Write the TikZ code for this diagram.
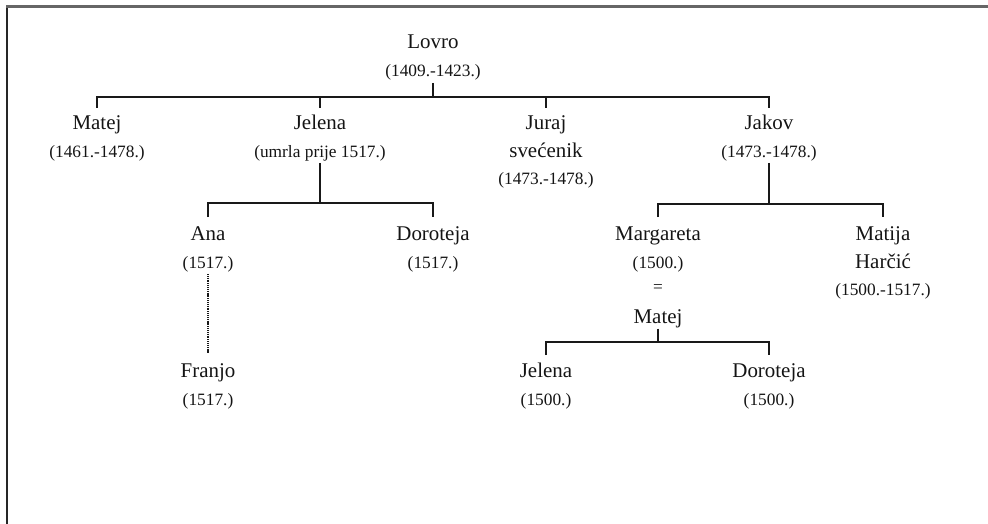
\documentclass[tikz,border=0pt]{standalone}
\usepackage{fontspec}
\setmainfont{Liberation Serif}
\begin{document}
\begin{tikzpicture}[x=0.75pt,y=-0.75pt,
  nm/.style={anchor=base,inner sep=0pt,font=\fontsize{15.7}{18}\selectfont,text=black!92},
  dt/.style={anchor=base,inner sep=0pt,font=\fontsize{13}{15}\selectfont,text=black!92},
  tl/.style={line width=2pt,draw=black!90},
  dl/.style={line width=1.2pt,draw=black!90,dash pattern=on 0.8pt off 0.6pt}]
\useasboundingbox (0,0) rectangle (988,524);
% frame
\draw[line width=1.4pt,black!85] (7,524) -- (7,6.5);
\draw[line width=1.6pt,black!60] (6.3,6.5) -- (988,6.5);
% generation 0
\node[nm] (lovroN) at (433,49) {Lovro};
\node[dt] (lovroD) at (433,77) {(1409.-1423.)};
% generation 1
\node[nm] (matejN) at (97,130) {Matej};
\node[dt] (matejD) at (97,158) {(1461.-1478.)};
\node[nm] (jelenaN) at (320,130) {Jelena};
\node[dt] (jelenaD) at (320,158) {(umrla prije 1517.)};
\node[nm] (jurajN) at (546,130) {Juraj};
\node[nm] (jurajS) at (546,157) {svećenik};
\node[dt] (jurajD) at (546,185) {(1473.-1478.)};
\node[nm] (jakovN) at (769,130) {Jakov};
\node[dt] (jakovD) at (769,158) {(1473.-1478.)};
% generation 2
\node[nm] (anaN) at (208,240) {Ana};
\node[dt] (anaD) at (208,268) {(1517.)};
\node[nm] (dorN) at (433,240) {Doroteja};
\node[dt] (dorD) at (433,268) {(1517.)};
\node[nm] (margN) at (658,240) {Margareta};
\node[dt] (margD) at (658,268) {(1500.)};
\node[dt] (eq) at (658,292) {=};
\node[nm] (matej2N) at (658,323) {Matej};
\node[nm] (matijaN) at (883,240) {Matija};
\node[nm] (matijaS) at (883,268) {Harčić};
\node[dt] (matijaD) at (883,295) {(1500.-1517.)};
% generation 3
\node[nm] (franjoN) at (208,377) {Franjo};
\node[dt] (franjoD) at (208,405) {(1517.)};
\node[nm] (jel2N) at (546,377) {Jelena};
\node[dt] (jel2D) at (546,405) {(1500.)};
\node[nm] (dor2N) at (769,377) {Doroteja};
\node[dt] (dor2D) at (769,405) {(1500.)};
% bar coordinates
\coordinate (bar1) at (433,97);
\coordinate (drop1) at (0,108);
\coordinate (bar2) at (320,203);
\coordinate (drop2) at (0,217);
\coordinate (bar3) at (767,204);
\coordinate (drop3) at (0,217);
\coordinate (bar4) at (658,342);
\coordinate (drop4) at (0,355);
% connectors
\draw[tl] (lovroD.south) ++(0,2) -- (lovroD.south |- bar1);
\draw[tl] (matejN.north |- drop1) |- (bar1) -| (jakovN.north |- drop1);
\draw[tl] (jelenaN.north |- drop1) -- (jelenaN.north |- bar1);
\draw[tl] (jurajN.north |- drop1) -- (jurajN.north |- bar1);
\draw[tl] (jelenaD.south) ++(0,1) -- (jelenaD.south |- bar2);
\draw[tl] (anaN.north |- drop2) |- (bar2) -| (dorN.north |- drop2);
\draw[tl] (jakovD.south) ++(0,1) -- (jakovD.south |- bar3);
\draw[tl] (margN.north |- drop3) |- (bar3) -| (matijaN.north |- drop3);
\draw[tl] (matej2N.south) ++(0,1) -- (matej2N.south |- bar4);
\draw[tl] (jel2N.north |- drop4) |- (bar4) -| (dor2N.north |- drop4);
\draw[dl] (anaD.south) ++(0,2) -- ([yshift=7pt]franjoN.north);
\end{tikzpicture}
\end{document}
